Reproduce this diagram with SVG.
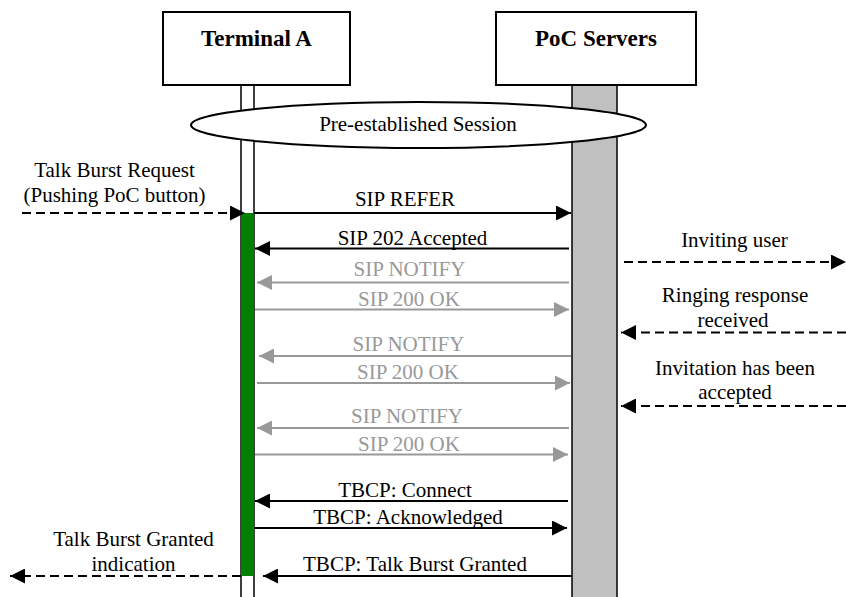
<svg xmlns="http://www.w3.org/2000/svg" width="846" height="597" viewBox="0 0 846 597">
<style>
text{font-family:'Liberation Serif',serif;font-size:21px;fill:#000;text-anchor:middle}
.t{font-weight:bold;font-size:23px}
.g{fill:#999999}
.box{fill:#fff;stroke:#000;stroke-width:2}
.m{stroke:#000;stroke-width:2;fill:none}
.mg{stroke:#999999;stroke-width:2;fill:none}
.d{stroke:#000;stroke-width:2;fill:none;stroke-dasharray:9,5}
</style>
<defs>
<marker id="ab" viewBox="0 0 15 15" refX="15" refY="7.5" markerWidth="15" markerHeight="15" markerUnits="userSpaceOnUse" orient="auto"><path d="M0,0L15,7.5L0,15z" fill="#000"/></marker>
<marker id="ag" viewBox="0 0 15 15" refX="15" refY="7.5" markerWidth="15" markerHeight="15" markerUnits="userSpaceOnUse" orient="auto"><path d="M0,0L15,7.5L0,15z" fill="#999999"/></marker>
</defs>
<g id="lifelines">
<rect x="241" y="85" width="13" height="520" fill="#fff" stroke="#000" stroke-width="1.5"/>
<rect x="241" y="213" width="13" height="363" fill="#008000"/>
<rect x="572" y="85" width="45" height="520" fill="#c0c0c0" stroke="#000" stroke-width="1.5"/>
</g>
<g id="terminal-a"><rect class="box" x="163" y="12" width="187" height="73"/><text class="t" x="256.5" y="45.5">Terminal A</text></g>
<g id="poc-servers"><rect class="box" x="496" y="12" width="200" height="73"/><text class="t" x="596" y="45.5">PoC Servers</text></g>
<g id="session"><ellipse cx="418.5" cy="125" rx="227.5" ry="23" fill="#fff" stroke="#000" stroke-width="2"/><text x="418" y="131">Pre-established Session</text></g>
<g id="connectors">
<line class="d" x1="22" y1="213" x2="245" y2="213" marker-end="url(#ab)"/>
<line class="m" x1="254" y1="213" x2="571" y2="213" marker-end="url(#ab)"/>
<line class="m" x1="569" y1="248.5" x2="255" y2="248.5" marker-end="url(#ab)"/>
<line class="mg" x1="569" y1="282.5" x2="257" y2="282.5" marker-end="url(#ag)"/>
<line class="mg" x1="255" y1="309.5" x2="569" y2="309.5" marker-end="url(#ag)"/>
<line class="mg" x1="571" y1="356" x2="259" y2="356" marker-end="url(#ag)"/>
<line class="mg" x1="257" y1="383" x2="570" y2="383" marker-end="url(#ag)"/>
<line class="mg" x1="569" y1="428" x2="257" y2="428" marker-end="url(#ag)"/>
<line class="mg" x1="255" y1="454.5" x2="568" y2="454.5" marker-end="url(#ag)"/>
<line class="m" x1="568" y1="501" x2="255" y2="501" marker-end="url(#ab)"/>
<line class="m" x1="254" y1="528" x2="567" y2="528" marker-end="url(#ab)"/>
<line class="m" x1="572" y1="576" x2="263" y2="576" marker-end="url(#ab)"/>
<line class="d" x1="241" y1="576" x2="10" y2="576" marker-end="url(#ab)"/>
<line class="d" x1="624" y1="262" x2="846" y2="262" marker-end="url(#ab)"/>
<line class="d" x1="846" y1="332.5" x2="621" y2="332.5" marker-end="url(#ab)"/>
<line class="d" x1="846" y1="406" x2="621" y2="406" marker-end="url(#ab)"/>
</g>
<g id="labels">
<text x="114.5" y="176.5">Talk Burst Request</text>
<text x="114.5" y="202">(Pushing PoC button)</text>
<text x="405" y="205.5">SIP REFER</text>
<text x="412.5" y="245">SIP 202 Accepted</text>
<text class="g" x="409.5" y="275.5">SIP NOTIFY</text>
<text class="g" x="409" y="306">SIP 200 OK</text>
<text class="g" x="408.5" y="351">SIP NOTIFY</text>
<text class="g" x="408" y="378.5">SIP 200 OK</text>
<text class="g" x="407" y="423">SIP NOTIFY</text>
<text class="g" x="409" y="451">SIP 200 OK</text>
<text x="405" y="497">TBCP: Connect</text>
<text x="408" y="524">TBCP: Acknowledged</text>
<text x="415" y="571">TBCP: Talk Burst Granted</text>
<text x="133.5" y="546">Talk Burst Granted</text>
<text x="133.5" y="571">indication</text>
<text x="734.5" y="247">Inviting user</text>
<text x="735" y="302">Ringing response</text>
<text x="733" y="326.5">received</text>
<text x="735" y="375">Invitation has been</text>
<text x="735" y="398.5">accepted</text>
</g>
</svg>
